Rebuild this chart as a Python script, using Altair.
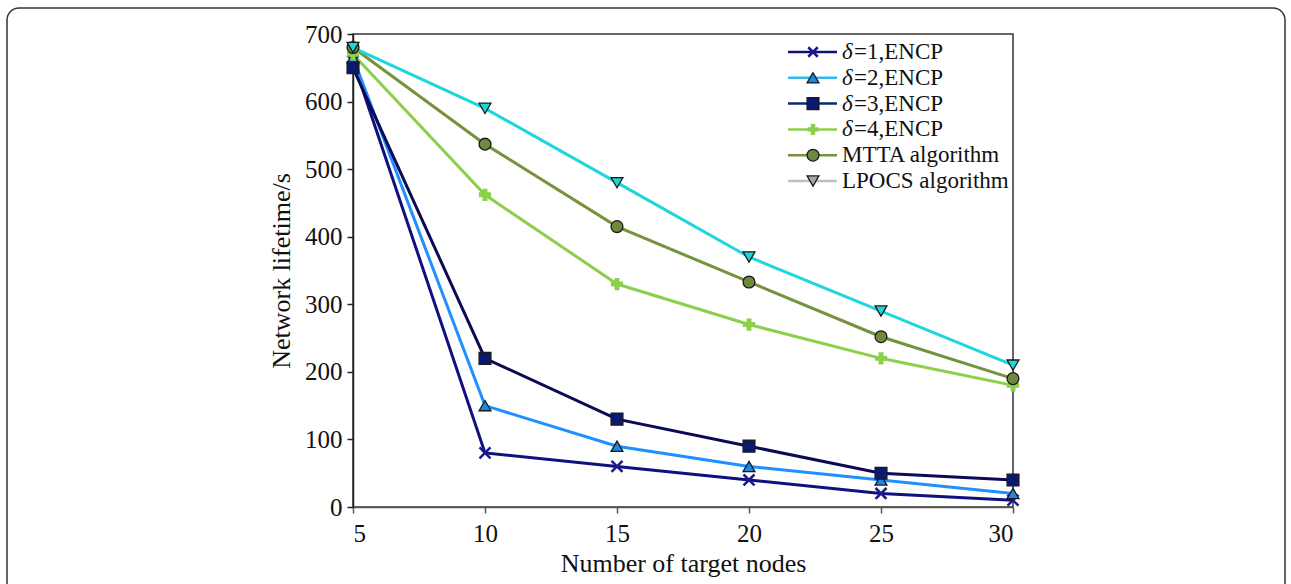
import altair as alt
import pandas as pd

# ---- data ----
nodes = [5, 10, 15, 20, 25, 30]
series_names = ["δ=1,ENCP", "δ=2,ENCP", "δ=3,ENCP", "δ=4,ENCP", "MTTA algorithm", "LPOCS algorithm"]
d1 = [660, 80, 60, 40, 20, 10]
d2 = [665, 150, 90, 60, 40, 20]
d3 = [650, 220, 130, 90, 50, 40]
d4 = [670, 462, 330, 270, 220, 180]
mtta = [680, 537, 415, 333, 252, 190]
lpocs = [680, 590, 480, 370, 290, 210]
values = [d1, d2, d3, d4, mtta, lpocs]
y_ticks = [0, 100, 200, 300, 400, 500, 600, 700]

line_colors = ["#10107e", "#1e90ff", "#0a0a55", "#8ccf4a", "#76923c", "#1fd5de"]
fill_colors = ["#1a1a8c", "#1e88e5", "#0a1a70", "#8ccf4a", "#6e8b3d", "#1fd5de"]
legend_line_colors = ["#10107e", "#33b8ec", "#0a2a70", "#8ccf4a", "#76923c", "#c0c0c0"]
legend_fill_colors = ["#1a1a8c", "#1e88e5", "#0a1a70", "#8ccf4a", "#6e8b3d", "#a8a8a8"]
shapes = ["M-1,-1L1,1M-1,1L1,-1", "triangle-up", "square", "cross", "circle", "triangle-down"]

rows = []
for name, vals in zip(series_names, values):
    for n, v in zip(nodes, vals):
        rows.append({"nodes": n, "life": v, "series": name})
df = pd.DataFrame(rows)

W, H = 660, 473
FONT = "Liberation Serif"

xenc = alt.X("nodes:Q", scale=alt.Scale(domain=[5, 30], nice=False, zero=False),
             axis=alt.Axis(values=nodes, title="Number of target nodes", format="d", grid=False,
                           labelFont=FONT, titleFont=FONT, labelFontSize=25, titleFontSize=26,
                           titleFontWeight="normal", labelColor="#111", titleColor="#111",
                           domainColor="#555", tickColor="#555", tickSize=6, tickWidth=1.5,
                           domainWidth=1.5, labelPadding=8, titlePadding=4))
yenc = alt.Y("life:Q", scale=alt.Scale(domain=[0, 700], nice=False),
             axis=alt.Axis(values=y_ticks, title="Network lifetime/s", grid=False,
                           labelFont=FONT, titleFont=FONT, labelFontSize=25, titleFontSize=26,
                           titleFontWeight="normal", labelColor="#111", titleColor="#111",
                           domainColor="#222", tickColor="#222", tickSize=6, tickWidth=1.5,
                           domainWidth=1.5, labelPadding=5, titlePadding=10))

layers = []

# outer rounded frame (decoration)
layers.append(
    alt.Chart(pd.DataFrame({"a": [0]})).mark_rect(
        fill=None, stroke="#333333", strokeWidth=1.5, cornerRadius=12
    ).encode(x=alt.value(-346), x2=alt.value(932), y=alt.value(-26), y2=alt.value(640))
)

lines = alt.Chart(df).mark_line(strokeWidth=3).encode(
    x=xenc, y=yenc,
    color=alt.Color("series:N", scale=alt.Scale(domain=series_names, range=line_colors), legend=None),
)
layers.append(lines)


def marker(data, i, fills, big=True):
    if i == 0:
        return alt.Chart(data).mark_point(shape=shapes[i], filled=False, stroke=fills[i],
                                          strokeWidth=2.5, size=120 if big else 90, opacity=1)
    if i == 3:
        return alt.Chart(data).mark_point(shape=shapes[i], filled=True, fill=fills[i],
                                          size=150 if big else 120, opacity=1, strokeWidth=0)
    return alt.Chart(data).mark_point(shape=shapes[i], filled=True, fill=fills[i],
                                      stroke="#1a1a1a", strokeWidth=1.3, size=140, opacity=1)


for i, name in enumerate(series_names):
    sub = df[df.series == name]
    layers.append(marker(sub, i, fill_colors).encode(x=xenc, y=yenc))

# custom legend (inside top-right of the plot)
for i, name in enumerate(series_names):
    ly = 18 + i * 25.8
    one = pd.DataFrame({"label": [name], "rest": [name[1:] if name.startswith("δ") else name]})
    layers.append(alt.Chart(one).mark_rule(color=legend_line_colors[i], strokeWidth=2.5).encode(
        x=alt.value(435), x2=alt.value(484), y=alt.value(ly)))
    layers.append(marker(one, i, legend_fill_colors, big=False).encode(x=alt.value(460), y=alt.value(ly)))
    if name.startswith("δ"):
        layers.append(alt.Chart(one).mark_text(text="δ", font=FONT, fontSize=23, fontStyle="italic",
                                               align="left", baseline="middle", color="#111").encode(
            x=alt.value(489), y=alt.value(ly)))
        layers.append(alt.Chart(one).mark_text(font=FONT, fontSize=23, align="left",
                                               baseline="middle", color="#111").encode(
            x=alt.value(501), y=alt.value(ly), text="rest:N"))
    else:
        layers.append(alt.Chart(one).mark_text(font=FONT, fontSize=23, align="left",
                                               baseline="middle", color="#111").encode(
            x=alt.value(489), y=alt.value(ly), text="rest:N"))

chart = alt.layer(*layers).properties(
    width=W, height=H,
    autosize=alt.AutoSizeParams(type="none"),
    padding={"left": 353, "top": 34, "right": 278, "bottom": 77},
    background="white",
).configure_view(
    stroke="#333333", strokeWidth=1.5
)

chart.save("out.html", embed_options={"renderer": "svg", "actions": False})
